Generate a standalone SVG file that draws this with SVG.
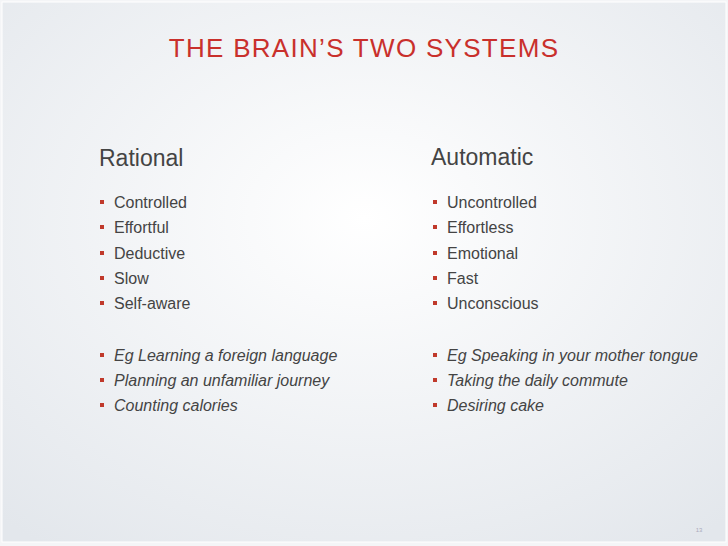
<svg xmlns="http://www.w3.org/2000/svg" width="728" height="546" viewBox="0 0 728 546">
<defs>
<radialGradient id="bg" cx="0.5" cy="0.4" r="0.75">
<stop offset="0" stop-color="#ffffff"/>
<stop offset="1" stop-color="#e3e7ec"/>
</radialGradient>
</defs>
<style>
text{font-family:"Liberation Sans",Arial,sans-serif;fill:#444}
.h{font-size:23px}
.i{font-size:16px}
.e{font-size:16px;font-style:italic}
.b{fill:#c0392b}
</style>
<rect width="728" height="546" fill="#f4f5f7"/>
<rect x="2" y="2" width="724" height="540" fill="url(#bg)" stroke="#ffffff" stroke-width="1"/>
<text x="364" y="57" text-anchor="middle" style="font-size:26px;letter-spacing:1.3px;fill:#c9302c">THE BRAIN’S TWO SYSTEMS</text>
<g id="rational">
<text class="h" x="99" y="166">Rational</text>
<g class="b">
<rect x="100" y="200" width="4" height="4"/><rect x="100" y="225" width="4" height="4"/><rect x="100" y="251" width="4" height="4"/><rect x="100" y="276" width="4" height="4"/><rect x="100" y="301" width="4" height="4"/>
<rect x="100" y="353" width="4" height="4"/><rect x="100" y="378" width="4" height="4"/><rect x="100" y="403" width="4" height="4"/>
</g>
<text class="i" x="114" y="208">Controlled</text>
<text class="i" x="114" y="233">Effortful</text>
<text class="i" x="114" y="259">Deductive</text>
<text class="i" x="114" y="284">Slow</text>
<text class="i" x="114" y="309">Self-aware</text>
<text class="e" x="114" y="361">Eg Learning a foreign language</text>
<text class="e" x="114" y="386">Planning an unfamiliar journey</text>
<text class="e" x="114" y="411">Counting calories</text>
</g>
<g id="automatic">
<text class="h" x="431" y="165">Automatic</text>
<g class="b">
<rect x="433" y="200" width="4" height="4"/><rect x="433" y="225" width="4" height="4"/><rect x="433" y="251" width="4" height="4"/><rect x="433" y="276" width="4" height="4"/><rect x="433" y="301" width="4" height="4"/>
<rect x="433" y="353" width="4" height="4"/><rect x="433" y="378" width="4" height="4"/><rect x="433" y="403" width="4" height="4"/>
</g>
<text class="i" x="447" y="208">Uncontrolled</text>
<text class="i" x="447" y="233">Effortless</text>
<text class="i" x="447" y="259">Emotional</text>
<text class="i" x="447" y="284">Fast</text>
<text class="i" x="447" y="309">Unconscious</text>
<text class="e" x="447" y="361">Eg Speaking in your mother tongue</text>
<text class="e" x="447" y="386">Taking the daily commute</text>
<text class="e" x="447" y="411">Desiring cake</text>
</g>
<text x="699" y="532" text-anchor="middle" style="font-size:6px;fill:#aab">13</text>
</svg>
